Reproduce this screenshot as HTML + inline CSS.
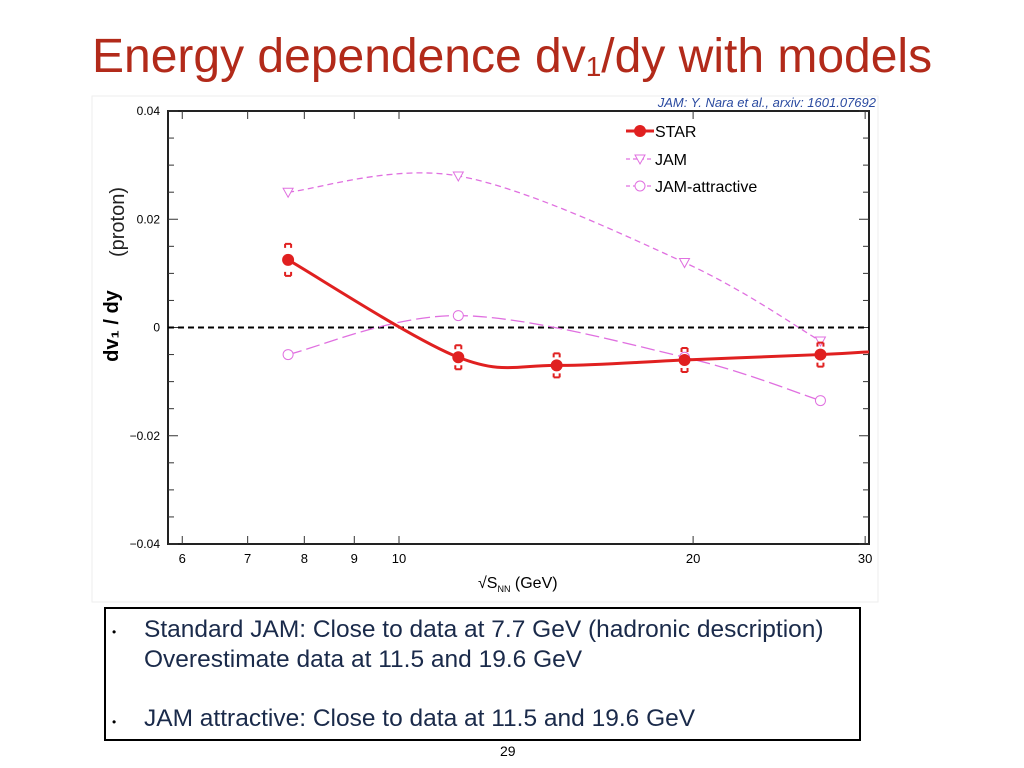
<!DOCTYPE html>
<html><head><meta charset="utf-8"><style>
body{margin:0;width:1024px;height:768px;background:#fff;overflow:hidden;font-family:"Liberation Sans",sans-serif;position:relative}
.title{position:absolute;left:92px;top:29px;font-size:48px;color:#b22a1a;white-space:nowrap}
.title sub{font-size:28px;vertical-align:-4px}
.box{position:absolute;left:104px;top:607px;width:753px;height:130px;border:2px solid #000;}
.b{position:absolute;font-size:24.5px;color:#1a2a4a;white-space:nowrap}
.dot{position:absolute;font-size:12px;left:112px}
</style></head><body>
<div class="title">Energy dependence dv<sub>1</sub>/dy with models</div>
<svg width="1024" height="768" style="position:absolute;left:0;top:0" id="chart">
<rect x="92" y="96" width="786" height="506" fill="#fff" stroke="#eee"/>
<text x="876" y="107" text-anchor="end" font-size="13" font-style="italic" fill="#2a4aa0">JAM: Y. Nara et al., arxiv: 1601.07692</text>
<text transform="translate(124,222) rotate(-90)" text-anchor="middle" font-size="20" fill="#222">(proton)</text>
<text transform="translate(118,326) rotate(-90)" text-anchor="middle" font-size="20" font-weight="bold" fill="#000">dv₁ / dy</text>
<g id="plot"></g>
<text x="478" y="588" font-size="16" fill="#000">√S<tspan font-size="9" dy="4">NN</tspan><tspan dy="-4"> (GeV)</tspan></text>
</svg>
<div class="box"></div>
<div class="dot" style="top:625px">•</div>
<div class="b" style="left:144px;top:616px">Standard JAM: Close to data at 7.7 GeV (hadronic description)</div>
<div class="b" style="left:144px;top:646px">Overestimate data at 11.5 and 19.6 GeV</div>
<div class="dot" style="top:715px">•</div>
<div class="b" style="left:144px;top:705px">JAM attractive: Close to data at 11.5 and 19.6 GeV</div>
<div style="position:absolute;left:500px;top:743px;font-size:14px">29</div>
<script>
const xTicks=[6,7,8,9,10,20,30];
const yTicks=[0.04,0.02,0,-0.02,-0.04];
const starE=[7.7,11.5,14.5,19.6,27];
const starV=[0.0125,-0.0055,-0.007,-0.006,-0.005];
const jamE=[7.7,11.5,19.6,27];
const jamV=[0.025,0.028,0.012,-0.0025];
const attE=[7.7,11.5,19.6,27];
const attV=[-0.005,0.0022,-0.0055,-0.0135];
const L=168,R=869,T=111,B=544;
const X=v=>399+977*(Math.log10(v)-1);
const Y=v=>T+(0.04-v)/0.08*(B-T);
const g=document.getElementById('plot');
const NS='http://www.w3.org/2000/svg';
function mk(t,a,name){const e=document.createElementNS(NS,t);for(const k in a)e.setAttribute(k,a[k]);


g.appendChild(e);return e;}
mk('rect',{x:L,y:T,width:R-L,height:B-T,fill:'none',stroke:'#222','stroke-width':2},'plot-area');
for(let i=0;i<=16;i++){const v=0.04-i*0.005,y=Y(v),len=i%4==0?10:6;
mk('line',{x1:L,y1:y,x2:L+len,y2:y,stroke:'#333'},'y-tick');mk('line',{x1:R,y1:y,x2:R-len,y2:y,stroke:'#333'},'y-tick');}
yTicks.forEach(v=>{const t=mk('text',{x:L-8,y:Y(v)+4,'text-anchor':'end','font-size':12},'y-tick-label');t.textContent=v===0?'0':v.toFixed(2).replace('-','−');});
for(let v=6;v<=30;v+=(v<10?1:10)){const x=X(v);mk('line',{x1:x,y1:B,x2:x,y2:B-8,stroke:'#333'},'x-tick');mk('line',{x1:x,y1:T,x2:x,y2:T+8,stroke:'#333'},'x-tick');}
xTicks.forEach(v=>{const t=mk('text',{x:X(v),y:B+19,'text-anchor':'middle','font-size':13},'x-tick-label');t.textContent=v;});
mk('line',{x1:L,y1:Y(0),x2:R,y2:Y(0),stroke:'#000','stroke-width':2,'stroke-dasharray':'6,4'},'zero-line');
function smooth(pts){let d='M'+pts[0][0]+','+pts[0][1];for(let i=0;i<pts.length-1;i++){const p0=pts[Math.max(i-1,0)],p1=pts[i],p2=pts[i+1],p3=pts[Math.min(i+2,pts.length-1)];
d+=' C'+(p1[0]+(p2[0]-p0[0])/6)+','+(p1[1]+(p2[1]-p0[1])/6)+' '+(p2[0]-(p3[0]-p1[0])/6)+','+(p2[1]-(p3[1]-p1[1])/6)+' '+p2[0]+','+p2[1];}return d;}
const sp=starE.map((e,i)=>[X(e),Y(starV[i])]);sp.push([R,Y(starV[starV.length-1]+0.0005)]);
mk('path',{d:smooth(jamE.map((e,i)=>[X(e),Y(jamV[i])])),fill:'none',stroke:'#e070e0','stroke-width':1.3,'stroke-dasharray':'6,4'},'jam-line');
mk('path',{d:smooth(attE.map((e,i)=>[X(e),Y(attV[i])])),fill:'none',stroke:'#e070e0','stroke-width':1.3,'stroke-dasharray':'14,5'},'jam-attractive-line');
mk('path',{d:smooth(sp),fill:'none',stroke:'#e02020','stroke-width':3},'star-line');
jamE.forEach((e,i)=>{const x=X(e),y=Y(jamV[i]);mk('path',{d:`M${x-5},${y-4} L${x+5},${y-4} L${x},${y+5} Z`,fill:'#fff',stroke:'#e070e0'},'jam-point');});
attE.forEach((e,i)=>{mk('circle',{cx:X(e),cy:Y(attV[i]),r:5,fill:'#fff',stroke:'#e070e0'},'jam-attractive-point');});
starE.forEach((e,i)=>{const x=X(e),y=Y(starV[i]),h=i==0?16:12;
mk('path',{d:`M${x-3},${y-h} h6 M${x-3},${y+h} h6 M${x-3},${y-h} v4 M${x+3},${y-h} v4 M${x-3},${y+h} v-4 M${x+3},${y+h} v-4`,stroke:'#e02020','stroke-width':2,fill:'none'},'star-sys-error');
mk('circle',{cx:x,cy:y,r:6,fill:'#e02020'},'star-point');});
const lx=640;[['STAR',131],['JAM',159],['JAM-attractive',186]].forEach(([n,y],i)=>{
mk('line',{x1:lx-14,y1:y,x2:lx+14,y2:y,stroke:i?'#e070e0':'#e02020','stroke-width':i?1.3:3,'stroke-dasharray':i?'4,3':'none'},'legend-line');
if(i==0)mk('circle',{cx:lx,cy:y,r:6,fill:'#e02020'},'legend-marker');
else if(i==1)mk('path',{d:`M${lx-5},${y-4} L${lx+5},${y-4} L${lx},${y+5} Z`,fill:'#fff',stroke:'#e070e0'},'legend-marker');
else mk('circle',{cx:lx,cy:y,r:5,fill:'#fff',stroke:'#e070e0'},'legend-marker');
const t=mk('text',{x:lx+15,y:y+6,'font-size':16},'legend-entry');t.textContent=n;});
</script>
</body></html>
